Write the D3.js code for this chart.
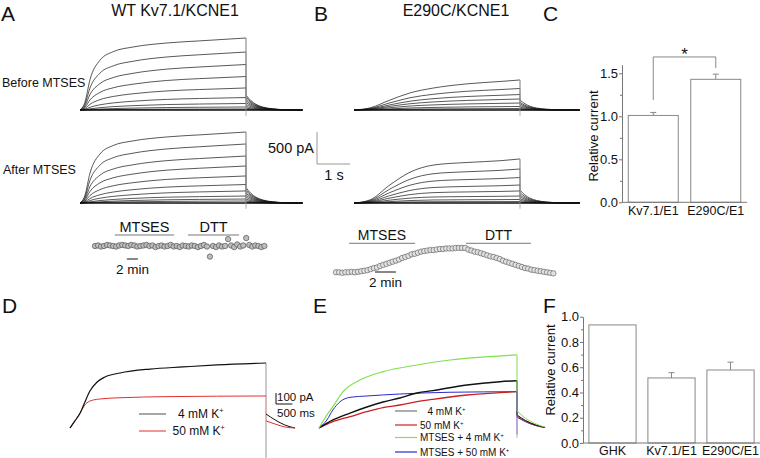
<!DOCTYPE html>
<html>
<head>
<meta charset="utf-8">
<script src="https://cdn.jsdelivr.net/npm/d3@7"></script>
<style>
  body { margin: 0; background: #fff; }
  svg { display: block; font-family: "Liberation Sans", Arial, sans-serif; }
</style>
</head>
<body>
<div id="fig"></div>
<script>
// ===============================================================
// Data
// ===============================================================

// A / B: voltage-step families. Normalised activation time course + plateau (pA) + tail (pA)
const wt_times = [0, 0.15, 0.3, 0.6, 1.0, 1.6, 2.6, 3.6, 5.0];          // s
const wt_shape_top = [0, 0.11, 0.42, 0.69, 0.81, 0.875, 0.93, 0.96, 1];
const wt_shape_low = [0, 0.03, 0.10, 0.25, 0.42, 0.60, 0.80, 0.90, 1];
const wt_before_amp = [1125, 906, 711, 523, 344, 195, 102, 47, 16];
const wt_before_tail = [234, 205, 175, 145, 115, 85, 55, 30, 12];
const wt_after_amp = [1109, 922, 734, 578, 422, 289, 188, 109, 62, 31];
const wt_after_tail = [240, 210, 180, 150, 120, 90, 60, 35, 18, 8];

const mut_times = [0, 0.48, 1.08, 1.69, 2.38, 3.4, 4.4, 5.0];            // s
const mut_before_shape = [0, 0.07, 0.33, 0.57, 0.73, 0.87, 0.95, 1];
const mut_after_shape = [0, 0.07, 0.41, 0.70, 0.86, 0.92, 0.96, 1];
const mut_before_amp = [469, 336, 242, 172, 109, 55, 23];
const mut_before_tail = [156, 120, 95, 70, 45, 25, 10];
const mut_after_amp = [688, 531, 398, 281, 188, 109, 55, 23];
const mut_after_tail = [200, 160, 125, 95, 65, 40, 20, 8];

const tail_times = [0, 0.15, 0.3, 0.5, 0.8, 1.2, 1.7];                    // s after step end
const tail_frac = [1, 0.62, 0.38, 0.20, 0.08, 0.02, 0];

// A / B: time course of relative current, one sample every dt minutes
const wt_flux_dt = 0.55;
const wt_flux = [1.00,1.01,0.99,1.00,1.02,1.01,1.00,0.99,1.01,1.02,
                 1.01,1.00,1.02,1.01,0.99,1.00,1.01,1.02,1.00,1.01,
                 0.98,1.00,1.01,0.99,1.00,1.02,0.99,1.00,0.98,1.01,
                 1.00,0.99,1.01,1.00,0.98,1.00,1.02,0.99,0.80,1.00,
                 0.98,1.01,0.99,1.00,1.13,1.01,0.98,1.03,0.99,1.01,
                 1.15,1.02,0.99,1.01,1.00,0.98,1.00];
const wt_flux_events = [{label: 'MTSES', start: 3.6, end: 14.4}, {label: 'DTT', start: 16.9, end: 26.2}];

const mut_flux_dt = 0.3;
const mut_flux = [1.00,1.00,0.99,1.00,1.00,1.01,1.00,1.01,1.02,1.03,
                  1.04,1.06,1.08,1.09,1.12,1.14,1.16,1.18,1.20,1.22,
                  1.24,1.27,1.29,1.31,1.34,1.35,1.37,1.39,1.40,1.41,
                  1.42,1.42,1.43,1.44,1.44,1.45,1.45,1.45,1.46,1.46,
                  1.46,1.46,1.43,1.41,1.39,1.38,1.36,1.34,1.32,1.30,
                  1.29,1.27,1.25,1.22,1.20,1.18,1.16,1.14,1.12,1.10,
                  1.08,1.07,1.05,1.04,1.03,1.02,1.01,1.00,0.99,0.98];
const mut_flux_events = [{label: 'MTSES', start: 1.24, end: 7.52}, {label: 'DTT', start: 12.38, end: 18.57}];

// C
const c_cats = ['Kv7.1/E1', 'E290C/E1'];
const c_vals = [1.01, 1.43];
const c_errs = [0.035, 0.06];

// D: [time s, current pA]
const d_4k = [[0,0],[0.15,64],[0.31,136],[0.43,218],[0.61,336],[0.83,418],[1.07,464],[1.53,500],[2.45,536],[3.46,555],[4.5,573],[6.0,591]];
const d_50k = [[0,0],[0.15,64],[0.31,136],[0.43,200],[0.61,245],[0.92,264],[1.53,275],[2.97,285],[6.0,291]];
const d_4k_tail = [[6.0,127],[6.28,73],[6.58,27],[6.89,0]];
const d_50k_tail = [[6.0,64],[6.28,36],[6.58,9],[6.89,0]];

// E
const e_4k = [[0,0],[0.42,73],[0.94,136],[1.45,191],[1.94,236],[2.45,273],[2.97,318],[3.45,340],[4.48,391],[5.48,421],[6.0,430]];
const e_50k = [[0,0],[0.42,57],[0.94,103],[1.45,148],[1.94,185],[2.45,209],[2.97,239],[3.45,261],[4.48,300],[5.48,321],[6.0,330]];
const e_mts_4k = [[0,0],[0.18,91],[0.42,194],[0.73,330],[1.24,436],[1.94,512],[2.97,573],[3.97,618],[4.97,645],[6.0,664]];
const e_mts_50k = [[0,0],[0.24,73],[0.42,164],[0.64,239],[0.94,279],[1.45,291],[2.45,309],[3.97,325],[6.0,330]];
const e_tail_t = [6.0, 6.25, 6.55, 6.85];
const e_4k_tail = [118, 70, 30, 5];
const e_50k_tail = [109, 62, 25, 5];
const e_mts_4k_tail = [155, 90, 40, 8];
const e_mts_50k_tail = [100, 58, 24, 4];

// F
const f_cats = ['GHK', 'Kv7.1/E1', 'E290C/E1'];
const f_vals = [0.935, 0.515, 0.578];
const f_errs = [null, 0.042, 0.062];

// ===============================================================
// Setup
// ===============================================================
const W = 760, H = 458;
const svg = d3.select('#fig').append('svg').attr('width', W).attr('height', H);
svg.append('rect').attr('width', W).attr('height', H).attr('fill', '#fff');

function txt(x, y, s, size, anchor = 'start') {
  return svg.append('text').attr('x', x).attr('y', y).attr('font-size', size)
    .attr('text-anchor', anchor).attr('fill', '#111').text(s);
}

// K+ label with superscript
function k_label(g, x, y, pre, size) {
  const t = g.append('text').attr('x', x).attr('y', y).attr('font-size', size).attr('fill', '#111');
  t.append('tspan').text(pre + 'K');
  t.append('tspan').attr('font-size', size * 0.6).attr('dy', -size * 0.4).text('+');
  return t;
}

// panel letters and titles
[['A', 1, 21], ['B', 314, 21], ['C', 543, 21], ['D', 2, 313], ['E', 313, 313], ['F', 543, 313]]
  .forEach(([l, x, y]) => txt(x, y, l, 21));
txt(175, 16, 'WT Kv7.1/KCNE1', 16, 'middle');
txt(456, 16, 'E290C/KCNE1', 16, 'middle');
txt(2, 87, 'Before MTSES', 12.5);
txt(3, 174, 'After MTSES', 12.5);

// ===============================================================
// Current families (A, B)
// ===============================================================
function draw_family(x, base, times, fast, slow, amps, tails, t_end) {
  const y = d3.scaleLinear().domain([0, 500]).range([base, base - 32]);
  const smooth = d3.line().x(d => x(d[0])).y(d => y(d[1])).curve(d3.curveMonotoneX);
  const straight = d3.line().x(d => x(d[0])).y(d => y(d[1]));
  const t_step = times[times.length - 1];
  const g = svg.append('g').attr('fill', 'none').attr('stroke', '#111').attr('stroke-width', 0.7);

  // capacitive artefact at the end of the step
  svg.append('path').attr('d', straight([[t_step, amps[0]], [t_step, -90]]))
    .attr('stroke', '#999').attr('stroke-width', 0.8);

  amps.forEach((a, i) => {
    const w = amps.length > 1 ? i / (amps.length - 1) : 0;
    const act = times.map((t, j) => [t, a * ((1 - w) * fast[j] + w * slow[j])]);
    const tail = tail_times.map((t, j) => [t_step + t, tails[i] * tail_frac[j]]);
    tail.push([t_end, 0]);
    g.append('path').attr('d', smooth(act));
    g.append('path').attr('d', straight([[t_step, a], [t_step, tails[i]]])).attr('stroke', '#888');
    g.append('path').attr('d', smooth(tail));
  });
  // baseline
  g.append('path').attr('d', straight([[0, 0], [t_end, 0]])).attr('stroke-width', 1.4);
}

const xA = d3.scaleLinear().domain([0, 5]).range([80, 246]);
const xB = d3.scaleLinear().domain([0, 5]).range([354, 520]);
draw_family(xA, 110, wt_times, wt_shape_top, wt_shape_low, wt_before_amp, wt_before_tail, 6.7);
draw_family(xA, 203, wt_times, wt_shape_top, wt_shape_low, wt_after_amp, wt_after_tail, 6.7);
draw_family(xB, 110, mut_times, mut_before_shape, mut_before_shape, mut_before_amp, mut_before_tail, 6.8);
draw_family(xB, 203, mut_times, mut_after_shape, mut_after_shape, mut_after_amp, mut_after_tail, 6.8);

// scale bar 500 pA / 1 s
{
  const y = d3.scaleLinear().domain([0, 500]).range([164, 132]);
  const x = d3.scaleLinear().domain([0, 1]).range([317, 317 + (xA(1) - xA(0))]);
  svg.append('path').attr('d', `M${x(0)},${y(500)}V${y(0)}H${x(1)}`)
    .attr('fill', 'none').attr('stroke', '#999').attr('stroke-width', 1);
  txt(268, 153, '500 pA', 14.5);
  txt(334, 180, '1 s', 14.5, 'middle');
}

// ===============================================================
// Time courses (A, B)
// ===============================================================
function draw_flux(x0, px_per_min, base, dt, vals, events, bar_y, label_size, scale_min, scale_y, fill, stroke) {
  const x = d3.scaleLinear().domain([0, 1]).range([x0, x0 + px_per_min]);
  const y = d3.scaleLinear().domain([1, 1.1]).range([base, base - 5.3]);
  events.forEach(e => {
    svg.append('line').attr('x1', x(e.start)).attr('x2', x(e.end)).attr('y1', bar_y).attr('y2', bar_y)
      .attr('stroke', '#777').attr('stroke-width', 1);
    txt((x(e.start) + x(e.end)) / 2, bar_y - 3, e.label, label_size, 'middle');
  });
  svg.append('g').selectAll('circle').data(vals).join('circle')
    .attr('cx', (d, i) => x(i * dt)).attr('cy', d => y(d)).attr('r', 2.7)
    .attr('fill', fill).attr('stroke', stroke).attr('stroke-width', 0.7);
  svg.append('line').attr('x1', x(scale_min[0])).attr('x2', x(scale_min[1]))
    .attr('y1', scale_y).attr('y2', scale_y).attr('stroke', '#111').attr('stroke-width', 1);
  txt((x(scale_min[0]) + x(scale_min[1])) / 2, scale_y + 15, '2 min', 13.5, 'middle');
}
draw_flux(95, 5.5, 246, wt_flux_dt, wt_flux, wt_flux_events, 235, 14.5, [5.8, 7.8], 259, '#bdbdbd', '#555');
draw_flux(336, 10.5, 272.3, mut_flux_dt, mut_flux, mut_flux_events, 243.3, 14, [3.71, 5.71], 272, '#e2e2e2', '#666');

// ===============================================================
// Bar charts (C, F)
// ===============================================================
function draw_bars(cats, vals, errs, x_range, y, ticks, minor, label_y, ylab) {
  const x = d3.scaleBand().domain(cats).range(x_range).paddingInner(0.2).paddingOuter(0.1);
  const g = svg.append('g');
  g.selectAll('rect').data(cats).join('rect')
    .attr('x', d => x(d)).attr('width', x.bandwidth())
    .attr('y', (d, i) => y(vals[i])).attr('height', (d, i) => y(0) - y(vals[i]))
    .attr('fill', '#fff').attr('stroke', '#888').attr('stroke-width', 1);
  cats.forEach((c, i) => {
    const cx = x(c) + x.bandwidth() / 2;
    if (errs[i] != null) {
      g.append('path').attr('d', `M${cx},${y(vals[i])}V${y(vals[i] + errs[i])}M${cx - 3},${y(vals[i] + errs[i])}H${cx + 3}`)
        .attr('stroke', '#888').attr('fill', 'none');
    }
    g.append('text').attr('x', cx).attr('y', label_y).attr('text-anchor', 'middle')
      .attr('font-size', 12.5).attr('fill', '#111').text(c);
  });
  const ax = svg.append('g').attr('transform', `translate(${x_range[0]},0)`)
    .call(d3.axisLeft(y).tickValues(ticks).tickFormat(d3.format('.1f')).tickSizeInner(3).tickSizeOuter(0).tickPadding(1));
  ax.selectAll('path,line').attr('stroke', '#777');
  ax.selectAll('text').attr('font-size', 13).attr('fill', '#111')
    .attr('font-family', '"Liberation Sans", Arial, sans-serif');
  const mx = svg.append('g').attr('transform', `translate(${x_range[0]},0)`)
    .call(d3.axisLeft(y).tickValues(minor).tickFormat('').tickSizeInner(2).tickSizeOuter(0));
  mx.select('.domain').remove();
  mx.selectAll('line').attr('stroke', '#777');
  svg.append('line').attr('x1', x_range[0]).attr('x2', x_range[1]).attr('y1', y(0)).attr('y2', y(0))
    .attr('stroke', '#777');
  svg.append('text').attr('transform', `translate(${ylab[0]},${ylab[1]}) rotate(-90)`)
    .attr('text-anchor', 'middle').attr('font-size', 13).attr('fill', '#111').text('Relative current');
  return x;
}

const yC = d3.scaleLinear().domain([0, 1.6]).range([202.3, 64.7]);
const xC = draw_bars(c_cats, c_vals, c_errs, [622, 747], yC, [0, 0.5, 1, 1.5], [0.25, 0.75, 1.25], 215, [598, 136]);
{
  const cx1 = xC(c_cats[0]) + xC.bandwidth() / 2, cx2 = xC(c_cats[1]) + xC.bandwidth() / 2;
  svg.append('path').attr('d', `M${cx1},${yC(1.19)}V${yC(1.69)}H${cx2}V${yC(1.56)}`)
    .attr('fill', 'none').attr('stroke', '#888');
  txt((cx1 + cx2) / 2, 60, '*', 17, 'middle');
}

const yF = d3.scaleLinear().domain([0, 1]).range([443, 316.7]);
draw_bars(f_cats, f_vals, f_errs, [583, 760], yF, [0, 0.2, 0.4, 0.6, 0.8, 1], [0.1, 0.3, 0.5, 0.7, 0.9], 455, [555, 370]);

// ===============================================================
// Ion substitution traces (D, E)
// ===============================================================
const yDE = d3.scaleLinear().domain([0, 100]).range([428, 417]);
const xD = d3.scaleLinear().domain([0, 6]).range([70, 266]);
const xE = d3.scaleLinear().domain([0, 6]).range([319, 517]);

function trace(x, pts, color, width) {
  const l = d3.line().x(d => x(d[0])).y(d => yDE(d[1])).curve(d3.curveMonotoneX);
  svg.append('path').attr('d', l(pts)).attr('fill', 'none').attr('stroke', color).attr('stroke-width', width);
}
function vline(x, t, a, b, color) {
  svg.append('line').attr('x1', x(t)).attr('x2', x(t)).attr('y1', yDE(a)).attr('y2', yDE(b))
    .attr('stroke', color).attr('stroke-width', 1);
}

// D
vline(xD, 6, d_4k[d_4k.length - 1][1], -280, '#999');
vline(xD, 6, 291, 64, '#f0a0a0');
trace(xD, d_50k, '#e03030', 1);
trace(xD, d_4k, '#111', 1.2);
trace(xD, d_4k_tail, '#111', 1);
trace(xD, d_50k_tail, '#e03030', 1);

// D legend + scale bar
{
  const lg = svg.append('g');
  lg.append('line').attr('x1', 139).attr('x2', 166).attr('y1', 414).attr('y2', 414).attr('stroke', '#888').attr('stroke-width', 1.5);
  k_label(lg, 178, 418, '4 mM ', 12);
  lg.append('line').attr('x1', 139).attr('x2', 166).attr('y1', 431).attr('y2', 431).attr('stroke', '#e03030').attr('stroke-width', 1);
  k_label(lg, 172.5, 435, '50 mM ', 12);
  const sx = d3.scaleLinear().domain([0, 0.5]).range([276, 276 + xD(0.5) - xD(0)]);
  const sy = d3.scaleLinear().domain([0, 100]).range([404, 404 - (yDE(0) - yDE(100))]);
  svg.append('path').attr('d', `M${sx(0)},${sy(100)}V${sy(0)}H${sx(0.5)}`).attr('fill', 'none').attr('stroke', '#111');
  txt(277, 401, '100 pA', 11.5);
  txt(277, 417, '500 ms', 11.5);
}

// E
const e_series = [
  {pts: e_mts_50k, tail: e_mts_50k_tail, color: '#2a2ad0', w: 1},
  {pts: e_50k, tail: e_50k_tail, color: '#cc2020', w: 1.3},
  {pts: e_4k, tail: e_4k_tail, color: '#111', w: 1.4},
  {pts: e_mts_4k, tail: e_mts_4k_tail, color: '#80e050', w: 1.2},
];
vline(xE, 6, 330, -90, '#e8a0b0');
e_series.forEach(s => {
  trace(xE, s.pts, s.color, s.w);
  vline(xE, 6, s.pts[s.pts.length - 1][1], s.tail[0], s.color);
  trace(xE, e_tail_t.map((t, i) => [t, s.tail[i]]), s.color, 1);
});
vline(xE, 6, 330, -60, '#8080e0');

// E legend
{
  const lg = svg.append('g');
  const rows = [
    {y: 411, color: '#777', x: 427.5, pre: '4 mM '},
    {y: 425, color: '#cc2020', x: 420, pre: '50 mM '},
    {y: 437.5, color: '#80e050', x: 420, pre: 'MTSES + 4 mM '},
    {y: 452, color: '#2a2ad0', x: 420, pre: 'MTSES + 50 mM '},
  ];
  rows.forEach(r => {
    lg.append('line').attr('x1', 395).attr('x2', 417).attr('y1', r.y).attr('y2', r.y).attr('stroke', r.color).attr('stroke-width', 1.2);
    k_label(lg, r.x, r.y + 3.5, r.pre, 10);
  });
}
</script>
</body>
</html>
